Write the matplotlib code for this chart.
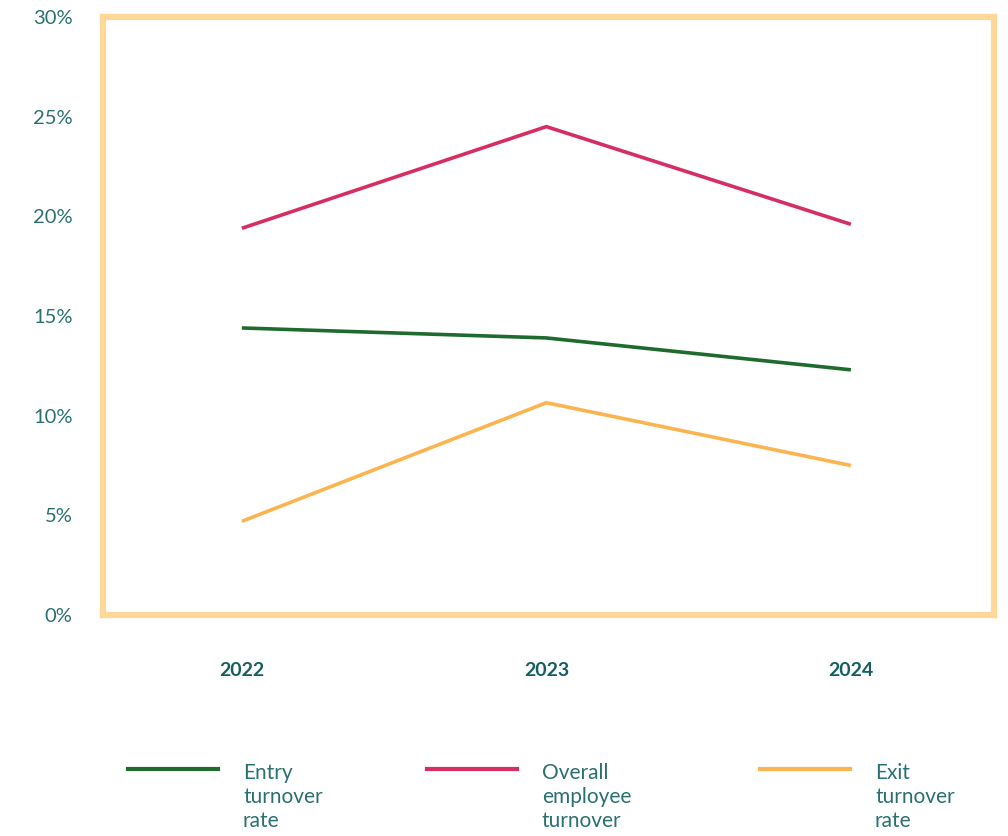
import matplotlib

matplotlib.use("Agg")

import matplotlib.pyplot as plt
from matplotlib.lines import Line2D
from matplotlib.ticker import FuncFormatter

years = ["2022", "2023", "2024"]
entry_rate = [14.4, 13.9, 12.3]
overall_turnover = [19.4, 24.5, 19.6]
exit_rate = [4.7, 10.65, 7.5]

series_labels = ["Entry\nturnover\nrate", "Overall\nemployee\nturnover", "Exit\nturnover\nrate"]
series_colors = ["#1f6b2f", "#d42e63", "#fbb450"]

TEXT = "#2a7070"
YEAR = "#175f5f"
FRAME = "#ffd899"

plt.rcParams["font.family"] = ["Lato", "DejaVu Sans"]

fig = plt.figure(figsize=(10.08, 8.36), dpi=100)
ax = fig.add_axes([103 / 1008, 1 - 615 / 836, (994 - 103) / 1008, (615 - 17) / 836])

x = range(len(years))
for vals, col, lab in zip([entry_rate, overall_turnover, exit_rate], series_colors, series_labels):
    ax.plot(x, vals, color=col, lw=2.6, label=lab, solid_capstyle="butt")

ax.set_xlim(-0.456, 2.47)
ax.set_ylim(0, 30)
ax.set_yticks(range(0, 31, 5))
ax.yaxis.set_major_formatter(FuncFormatter(lambda v, _: f"{v:.0f}%"))
ax.set_xticks(list(x))
ax.set_xticklabels(years, fontweight="bold", color=YEAR, fontsize=14)
ax.tick_params(axis="x", length=0, pad=34)
ax.tick_params(axis="y", length=0, pad=22, labelcolor=TEXT, labelsize=14.5)
for s in ax.spines.values():
    s.set_color(FRAME)
    s.set_linewidth(4.5)

# legend: handle line on the left, multi-line label top-aligned beside it
handles, labels = ax.get_legend_handles_labels()
hx = [128, 427, 760]
for h, lab, x0 in zip(handles, labels, hx):
    y = 1 - 769 / 836
    fig.add_artist(Line2D([x0 / 1008, (x0 + 90) / 1008], [y, y],
                          color=h.get_color(), lw=3, transform=fig.transFigure))
    fig.text((x0 + 115) / 1008, 1 - 763 / 836, lab, color=TEXT, fontsize=15,
             va="top", ha="left", linespacing=1.24)

fig.savefig("out.png", dpi=100)
